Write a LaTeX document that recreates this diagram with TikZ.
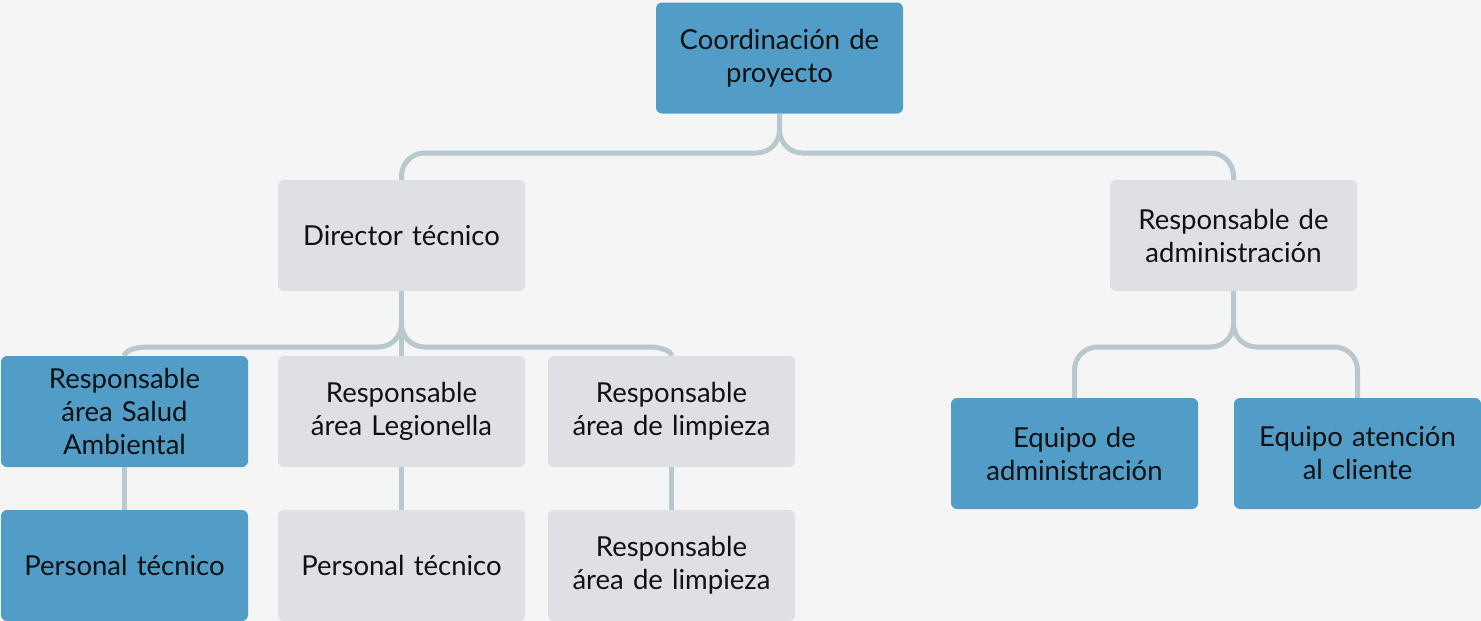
\documentclass[tikz,border=0pt]{standalone}
\usepackage{fontspec}
\setmainfont{Lato}
\definecolor{bg}{RGB}{245,245,245}
\definecolor{bluebox}{RGB}{82,157,200}
\definecolor{graybox}{RGB}{223,224,229}
\definecolor{connc}{RGB}{183,200,207}
\definecolor{txt}{RGB}{17,17,17}
\begin{document}
\begin{tikzpicture}[x=1pt,y=-1pt,
  box/.style={rounded corners=6pt, minimum width=247pt, minimum height=111pt, inner sep=0pt,
    text width=240pt, align=center, text=txt, font=\fontsize{27.5}{33}\selectfont},
  bbox/.style={box, fill=bluebox},
  gbox/.style={box, fill=graybox},
  conn/.style={draw=connc, line width=5pt}]
\fill[bg] (0,0) rectangle (1481,621);
\useasboundingbox (0,0) rectangle (1481,621);
\node[bbox] (coord) at (779.5,58) {Coordinación de\\proyecto};
\node[gbox] (dir) at (401.5,235.5) {Director técnico};
\node[gbox] (adm) at (1233.5,235.5) {Responsable de\\administración};
\node[bbox] (sal) at (124.5,411.5) {Responsable\\área Salud\\Ambiental};
\node[gbox] (leg) at (401.5,411.5) {Responsable\\área Legionella};
\node[gbox] (lim) at (671.5,411.5) {Responsable\\área de limpieza};
\node[bbox] (pt1) at (124.5,565.5) {Personal técnico};
\node[gbox] (pt2) at (401.5,565.5) {Personal técnico};
\node[gbox] (lim2) at (671.5,565.5) {Responsable\\área de limpieza};
\node[bbox] (eqa) at (1074.5,453.5) {Equipo de\\administración};
\node[bbox] (eqc) at (1357.5,453.5) {Equipo atención\\al cliente};
% connectors
\coordinate (c1) at (779.5,130);
\coordinate (d1) at (401.5,324);
\coordinate (a1) at (1233.5,324);
\draw[conn] (coord.south) -- (c1) .. controls (779.5,142.7) and (769.2,153) .. (756.5,153) -- (424.5,153)
  .. controls (411.8,153) and (401.5,163.3) .. (401.5,176) -- (dir.north);
\draw[conn] (c1) .. controls (779.5,142.7) and (789.8,153) .. (802.5,153) -- (1210.5,153)
  .. controls (1223.2,153) and (1233.5,163.3) .. (1233.5,176) -- (adm.north);
\draw[conn] (dir.south) -- (leg.north);
\draw[conn] (d1) .. controls (401.5,336.7) and (391.2,347) .. (378.5,347) -- (147,347)
  .. controls (135,347) and (124.5,351) .. (sal.north);
\draw[conn] (d1) .. controls (401.5,336.7) and (411.8,347) .. (424.5,347) -- (649,347)
  .. controls (661,347) and (671.5,351) .. (lim.north);
\draw[conn] (adm.south) -- (a1) .. controls (1233.5,336.7) and (1223.2,347) .. (1210.5,347) -- (1097.5,347)
  .. controls (1084.8,347) and (1074.5,357.3) .. (1074.5,370) -- (eqa.north);
\draw[conn] (a1) .. controls (1233.5,336.7) and (1243.8,347) .. (1256.5,347) -- (1334.5,347)
  .. controls (1347.2,347) and (1357.5,357.3) .. (1357.5,370) -- (eqc.north);
\draw[conn] (sal.south) -- (pt1.north);
\draw[conn] (leg.south) -- (pt2.north);
\draw[conn] (lim.south) -- (lim2.north);
\end{tikzpicture}
\end{document}
